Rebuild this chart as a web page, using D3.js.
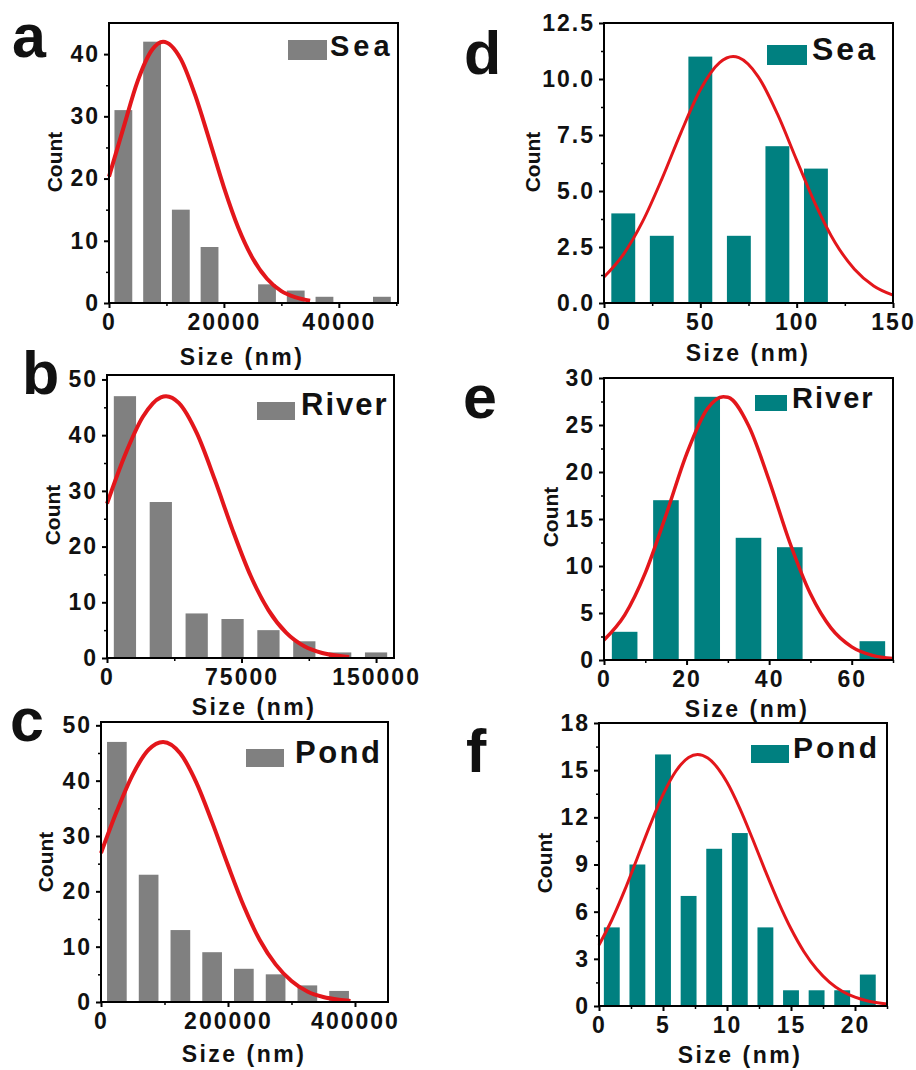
<!DOCTYPE html>
<html>
<head>
<meta charset="utf-8">
<script src="https://cdn.jsdelivr.net/npm/d3@7"></script>
<style>
  body { margin: 0; background: #fff; }
  svg text { font-family: "Liberation Sans", Arial, sans-serif; font-weight: bold; fill: #111; }
</style>
</head>
<body>
<svg id="fig" width="916" height="1070"></svg>
<script>
// ---- data ----
// a: Sea (gray)
const aCenters = [2500, 7500, 12500, 17500, 22500, 27500, 32500, 37500, 42500, 47500];
const aCounts = [31, 42, 15, 9, 0, 3, 2, 1, 0, 1];
const aFitX = [0, 2500, 5000, 7500, 9400, 12500, 15000, 17500, 20000, 22500, 25000, 27500, 30000, 32500, 35000];
const aFitY = [20.3, 28.1, 35.7, 40.7, 42, 39.2, 33.4, 26.1, 18.6, 12.1, 7.2, 3.9, 1.9, 0.9, 0.36];

// b: River (gray)
const bCenters = [10000, 30000, 50000, 70000, 90000, 110000, 130000, 150000];
const bCounts = [47, 28, 8, 7, 5, 3, 1, 1];
const bFitX = [0, 10000, 20000, 30000, 32900, 40000, 50000, 60000, 70000, 80000, 90000, 100000, 110000, 120000, 130000, 135000];
const bFitY = [27.7, 36.4, 43.3, 46.8, 47, 45.8, 40.4, 32.1, 23.0, 14.8, 8.6, 4.5, 2.1, 0.9, 0.35, 0.2];

// c: Pond (gray)
const cCenters = [25000, 75000, 125000, 175000, 225000, 275000, 325000, 375000];
const cCounts = [47, 23, 13, 9, 6, 5, 3, 2];
const cFitX = [0, 25000, 50000, 75000, 97800, 125000, 150000, 175000, 200000, 225000, 250000, 275000, 300000, 325000, 350000, 375000, 393000];
const cFitY = [26.9, 34.5, 41.1, 45.6, 47, 44.9, 39.7, 32.5, 24.7, 17.3, 11.2, 6.8, 3.8, 1.9, 0.9, 0.4, 0.2];

// d: Sea (teal)
const dCenters = [10, 30, 50, 70, 90, 110];
const dCounts = [4, 3, 11, 3, 7, 6];
const dFitX = [0, 10, 20, 30, 40, 50, 60, 67, 70, 80, 90, 100, 110, 120, 130, 140, 150];
const dFitY = [1.16, 2.16, 3.63, 5.53, 7.62, 9.52, 10.73, 11, 10.95, 10.11, 8.44, 6.38, 4.36, 2.69, 1.51, 0.76, 0.35];

// e: River (teal)
const eCenters = [5, 15, 25, 35, 45, 55, 65];
const eCounts = [3, 17, 28, 13, 12, 0, 2];
const eFitX = [0, 5, 10, 15, 20, 25, 28.9, 30, 35, 40, 45, 50, 55, 60, 65, 70];
const eFitY = [2.13, 4.77, 9.26, 15.4, 21.9, 26.7, 28, 27.95, 24.95, 19.1, 12.5, 7.04, 3.39, 1.4, 0.49, 0.15];

// f: Pond (teal)
const fCenters = [1, 3, 5, 7, 9, 11, 13, 15, 17, 19, 21];
const fCounts = [5, 9, 16, 7, 10, 11, 5, 1, 1, 1, 2];
const fFitX = [0, 1, 2, 3, 4, 5, 6, 7, 7.7, 8.5, 10, 11, 12, 13, 14, 15, 16, 17, 18, 19, 20, 21, 22.5];
const fFitY = [3.88, 5.47, 7.35, 9.43, 11.52, 13.44, 14.93, 15.81, 16, 15.77, 14.23, 12.57, 10.62, 8.58, 6.64, 4.91, 3.47, 2.35, 1.52, 0.94, 0.56, 0.32, 0.12];

// tick values
const aXTicks = [0, 20000, 40000], aXMinor = [10000, 30000, 50000], aYTicks = [0, 10, 20, 30, 40];
const bXTicks = [0, 75000, 150000], bXMinor = [37500, 112500], bYTicks = [0, 10, 20, 30, 40, 50];
const cXTicks = [0, 200000, 400000], cXMinor = [100000, 300000], cYTicks = [0, 10, 20, 30, 40, 50];
const dXTicks = [0, 50, 100, 150], dXMinor = [25, 75, 125], dYTicks = [0, 2.5, 5, 7.5, 10, 12.5];
const eXTicks = [0, 20, 40, 60], eXMinor = [10, 30, 50, 70], eYTicks = [0, 5, 10, 15, 20, 25, 30];
const fXTicks = [0, 5, 10, 15, 20], fXMinor = [2.5, 7.5, 12.5, 17.5, 22.5], fYTicks = [0, 3, 6, 9, 12, 15, 18];

const GRAY = "#808080", TEAL = "#008080", RED = "#e3161b";

const panels = [
  {label: "a", name: "Sea", color: GRAY, centers: aCenters, counts: aCounts, fitX: aFitX, fitY: aFitY,
   bin: 5000, xDom: [0, 50300], yDom: [0, 45], xTicks: aXTicks, xMinor: aXMinor, yTicks: aYTicks,
   box: [109, 23, 398, 303], letter: [12, 57], legend: [288, 40, 39, 20, 330, 56, 29, 4],
   title: [242, 365], count: [62, 162], lw: 4},
  {label: "b", name: "River", color: GRAY, centers: bCenters, counts: bCounts, fitX: bFitX, fitY: bFitY,
   bin: 20000, xDom: [0, 160000], yDom: [0, 50.8], xTicks: bXTicks, xMinor: bXMinor, yTicks: bYTicks,
   box: [107, 375, 394, 658], letter: [22, 394], legend: [257, 402, 38, 18, 301, 415, 31, 2],
   title: [254, 715], count: [60, 515], lw: 4},
  {label: "c", name: "Pond", color: GRAY, centers: cCenters, counts: cCounts, fitX: cFitX, fitY: cFitY,
   bin: 50000, xDom: [0, 452000], yDom: [0, 50.6], xTicks: cXTicks, xMinor: cXMinor, yTicks: cYTicks,
   box: [101, 722, 388, 1002], letter: [10, 741], legend: [246, 749, 38, 18, 295, 763, 31, 2.5],
   title: [244, 1062], count: [53, 862], lw: 4},
  {label: "d", name: "Sea", color: TEAL, centers: dCenters, counts: dCounts, fitX: dFitX, fitY: dFitY,
   bin: 20, xDom: [0, 150], yDom: [0, 12.5], xTicks: dXTicks, xMinor: dXMinor, yTicks: dYTicks, yFmt: ".1f",
   box: [604, 23, 893, 303], letter: [464, 74], legend: [767, 45, 40, 20, 812, 60, 32, 3],
   title: [748, 361], count: [540, 162], lw: 3},
  {label: "e", name: "River", color: TEAL, centers: eCenters, counts: eCounts, fitX: eFitX, fitY: eFitY,
   bin: 10, xDom: [0, 70], yDom: [0, 30], xTicks: eXTicks, xMinor: eXMinor, yTicks: eYTicks,
   box: [604, 378, 893, 660], letter: [463, 418], legend: [755, 395, 32, 16, 792, 408, 29, 2],
   title: [747, 717], count: [558, 517], lw: 3.5},
  {label: "f", name: "Pond", color: TEAL, centers: fCenters, counts: fCounts, fitX: fFitX, fitY: fFitY,
   bin: 2, xDom: [0, 22.5], yDom: [0, 18], xTicks: fXTicks, xMinor: fXMinor, yTicks: fYTicks,
   box: [599, 723, 887, 1006], letter: [466, 772], legend: [751, 745, 38, 18, 793, 758, 30, 3],
   title: [740, 1063], count: [552, 863], lw: 3}
];

const svg = d3.select("#fig");
svg.append("rect").attr("width", 916).attr("height", 1070).attr("fill", "#fff");

panels.forEach(p => {
  const [x0, y0, x1, y1] = p.box;
  const x = d3.scaleLinear().domain(p.xDom).range([x0, x1]);
  const y = d3.scaleLinear().domain(p.yDom).range([y1, y0]);
  const g = svg.append("g");

  // bars
  const bw = p.bin * 0.62;
  g.selectAll("rect.bar")
    .data(p.centers.map((c, i) => ({c, n: p.counts[i]})))
    .enter().append("rect")
    .attr("class", "bar")
    .attr("x", d => x(d.c - bw / 2))
    .attr("width", d => x(d.c + bw / 2) - x(d.c - bw / 2))
    .attr("y", d => y(d.n))
    .attr("height", d => y(0) - y(d.n))
    .attr("fill", p.color);

  // fitted curve
  const line = d3.line()
    .x(d => x(d[0]))
    .y(d => y(d[1]))
    .curve(d3.curveMonotoneX);
  g.append("path")
    .datum(p.fitX.map((v, i) => [v, p.fitY[i]]))
    .attr("d", line)
    .attr("fill", "none")
    .attr("stroke", RED)
    .attr("stroke-width", p.lw);

  // axes
  const xAxis = g.append("g").attr("transform", `translate(0,${y1})`)
    .call(d3.axisBottom(x).tickValues(p.xTicks).tickSize(5).tickPadding(6).tickFormat(d3.format("d")));
  const yAxis = g.append("g").attr("transform", `translate(${x0},0)`)
    .call(d3.axisLeft(y).tickValues(p.yTicks).tickSize(5).tickPadding(4)
      .tickFormat(d3.format(p.yFmt || "d")));
  [xAxis, yAxis].forEach(ax => {
    ax.select(".domain").remove();
    ax.selectAll("line").attr("stroke", "#000").attr("stroke-width", 2);
    ax.selectAll("text").attr("font-size", 23).attr("letter-spacing", 2).attr("fill", "#111");
  });
  // minor ticks
  g.append("g").attr("transform", `translate(0,${y1})`)
    .call(d3.axisBottom(x).tickValues(p.xMinor).tickSize(3).tickFormat(""))
    .call(a => a.select(".domain").remove())
    .selectAll("line").attr("stroke", "#000").attr("stroke-width", 1.5);
  const yMinor = p.yTicks.slice(1).map((t, i) => (t + p.yTicks[i]) / 2);
  g.append("g").attr("transform", `translate(${x0},0)`)
    .call(d3.axisLeft(y).tickValues(yMinor).tickSize(3).tickFormat(""))
    .call(a => a.select(".domain").remove())
    .selectAll("line").attr("stroke", "#000").attr("stroke-width", 1.5);

  // frame
  g.append("rect")
    .attr("x", x0).attr("y", y0).attr("width", x1 - x0).attr("height", y1 - y0)
    .attr("fill", "none").attr("stroke", "#000").attr("stroke-width", 2);

  // axis titles
  g.append("text").attr("x", p.title[0]).attr("y", p.title[1])
    .attr("text-anchor", "middle").attr("font-size", 23).attr("letter-spacing", 2.5)
    .text("Size (nm)");
  g.append("text").attr("transform", `translate(${p.count[0]},${p.count[1]}) rotate(-90)`)
    .attr("text-anchor", "middle").attr("font-size", 21)
    .text("Count");

  // legend
  const [lx, ly, lw, lh, tx, ty, fs, ls] = p.legend;
  g.append("rect").attr("x", lx).attr("y", ly).attr("width", lw).attr("height", lh).attr("fill", p.color);
  g.append("text").attr("x", tx).attr("y", ty).attr("font-size", fs).attr("letter-spacing", ls).text(p.name);

  // panel letter
  svg.append("text").attr("x", p.letter[0]).attr("y", p.letter[1])
    .attr("font-size", 61).attr("fill", "#000")
    .text(p.label);
});
</script>
</body>
</html>
